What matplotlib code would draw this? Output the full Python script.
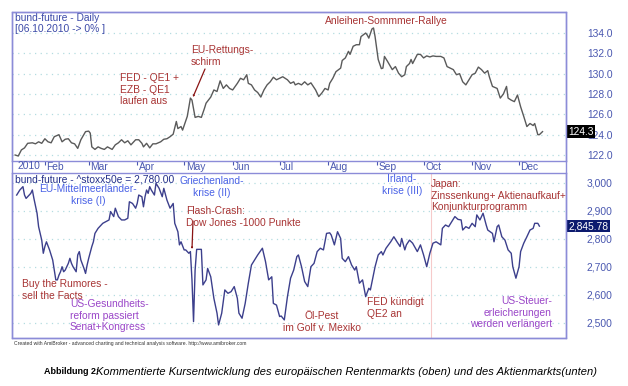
import matplotlib
matplotlib.use("Agg")
import matplotlib.pyplot as plt
import matplotlib.transforms as mtransforms
from matplotlib.patches import Rectangle
import numpy as np
import pandas as pd

# ---- data, x = day of year 2010 ----
TOP_DAY = [13, 15, 17, 19, 21, 24, 26, 28, 30, 32,
           34, 36, 38, 41, 43, 45, 47, 49, 51, 53,
           55, 58, 60, 61, 62, 64, 66, 68, 70, 72,
           75, 77, 79, 81, 83, 85, 87, 90, 92, 94,
           95, 97, 99, 101, 103, 106, 108, 110, 112, 114,
           116, 117, 119, 120, 123, 125, 126, 128, 130, 132,
           134, 135, 138, 140, 142, 144, 146, 148, 150, 152,
           155, 157, 159, 161, 162, 164, 166, 168, 170, 172,
           174, 176, 178, 180, 182, 184, 187, 189, 191, 192,
           194, 196, 198, 200, 202, 205, 207, 209, 211, 213,
           214, 216, 218, 221, 222, 224, 226, 227, 229, 231,
           233, 234, 237, 238, 239, 241, 242, 243, 245, 247,
           248, 249, 251, 254, 256, 258, 260, 262, 263, 265,
           266, 267, 270, 272, 274, 276, 278, 280, 282, 285,
           287, 289, 291, 293, 295, 297, 299, 301, 303, 305,
           307, 309, 311, 313, 315, 316, 318, 321, 323, 325,
           327, 328, 330, 332, 334, 336, 338, 340, 342, 344,
           345, 347, 348, 350]
TOP_VAL = [122.0, 121.9, 122.5, 122.7, 123.15, 123.2, 123.1, 123.3, 123.15, 123.6,
           123.3, 123.2, 123.8, 124.0, 123.3, 123.55, 123.6, 123.2, 123.1, 122.65,
           123.5, 124.3, 124.35, 124.15, 122.8, 122.55, 122.8, 122.65, 122.55, 122.8,
           122.55, 123.0, 123.2, 123.5, 123.2, 123.4, 123.0, 123.5, 123.5, 123.15,
           122.8, 123.15, 122.7, 123.1, 123.1, 123.3, 123.55, 123.6, 123.8, 124.05,
           125.3, 124.6, 124.8, 124.45, 125.8, 127.6, 127.4, 125.7, 125.8, 125.7,
           126.6, 127.1, 127.7, 128.4, 128.25, 129.3, 128.55, 128.9, 128.55, 128.4,
           129.05, 129.55, 129.4, 129.9, 129.05, 128.9, 128.4, 128.15, 127.7, 128.4,
           128.9, 129.2, 129.65, 129.4, 129.55, 129.7, 129.4, 129.05, 129.2, 128.9,
           129.05, 128.9, 129.2, 128.9, 129.1, 128.4, 127.75, 128.1, 128.55, 128.4,
           129.05, 129.55, 130.2, 130.55, 131.3, 131.55, 132.2, 131.9, 132.7, 132.85,
           132.85, 133.65, 134.0, 133.8, 133.5, 134.4, 134.5, 133.65, 131.4, 130.5,
           130.55, 131.7, 131.2, 130.4, 130.7, 130.05, 129.7, 129.9, 130.7, 131.0,
           131.4, 131.0, 131.9, 131.9, 131.55, 131.75, 131.65, 131.75, 131.7, 131.7,
           131.55, 130.7, 130.55, 130.4, 129.9, 130.0, 129.2, 128.9, 129.4, 129.9,
           130.05, 130.65, 130.4, 130.05, 130.3, 129.7, 128.75, 128.55, 127.6, 128.0,
           128.75, 127.6, 127.4, 127.25, 127.9, 126.75, 125.8, 124.8, 125.1, 124.9,
           125.1, 124.0, 124.0, 124.3]

BOT_DAY = [14, 16, 18, 19, 20, 23, 24, 25, 27, 28,
           30, 31, 32, 33, 35, 36, 37, 39, 40, 41,
           42, 43, 44, 45, 47, 48, 49, 50, 52, 53,
           54, 55, 57, 58, 59, 60, 62, 63, 64, 66,
           67, 69, 71, 73, 74, 76, 77, 79, 81, 83,
           85, 86, 88, 90, 91, 92, 94, 95, 96, 97,
           98, 99, 100, 102, 103, 105, 107, 108, 110, 112,
           114, 115, 117, 118, 119, 121, 122, 124, 125, 126,
           127, 128, 129, 130, 132, 133, 135, 136, 138, 140,
           142, 143, 145, 147, 149, 151, 153, 155, 156, 158,
           160, 162, 164, 166, 168, 171, 173, 175, 177, 178,
           180, 182, 183, 185, 187, 189, 191, 193, 194, 196,
           198, 200, 202, 204, 206, 208, 210, 212, 214, 215,
           217, 219, 221, 222, 224, 226, 228, 230, 231, 233,
           235, 237, 239, 240, 243, 245, 247, 248, 250, 253,
           255, 257, 259, 260, 262, 263, 265, 267, 270, 272,
           274, 276, 278, 280, 282, 285, 286, 288, 290, 292,
           294, 296, 298, 299, 301, 303, 305, 307, 308, 310,
           312, 314, 315, 318, 319, 321, 322, 324, 326, 328,
           330, 331, 333, 335, 336, 338, 340, 342, 344, 345,
           347, 348]
BOT_VAL = [2957, 2975, 2987, 2957, 2945, 2963, 2975, 2945, 2892, 2844,
           2796, 2749, 2773, 2790, 2761, 2743, 2725, 2654, 2654, 2671,
           2683, 2701, 2683, 2689, 2713, 2731, 2713, 2701, 2683, 2743,
           2755, 2725, 2695, 2677, 2707, 2731, 2773, 2790, 2820, 2838,
           2844, 2856, 2862, 2868, 2898, 2880, 2910, 2880, 2868, 2868,
           2874, 2933, 2927, 2910, 2927, 2957, 2951, 2915, 2951, 2975,
           2963, 2987, 2975, 2957, 2999, 2981, 2951, 2981, 2939, 2910,
           2927, 2856, 2826, 2779, 2790, 2761, 2761, 2749, 2755, 2654,
           2505, 2689, 2763, 2763, 2763, 2636, 2654, 2695, 2665, 2588,
           2535, 2493, 2535, 2618, 2606, 2612, 2630, 2588, 2535, 2517,
           2570, 2642, 2707, 2725, 2743, 2767, 2719, 2654, 2665, 2570,
           2564, 2523, 2525, 2511, 2594, 2660, 2689, 2737, 2743, 2701,
           2648, 2630, 2701, 2713, 2755, 2767, 2761, 2820, 2822, 2814,
           2779, 2826, 2802, 2731, 2719, 2737, 2707, 2689, 2701, 2642,
           2654, 2594, 2624, 2618, 2701, 2743, 2755, 2743, 2767, 2790,
           2808, 2790, 2773, 2802, 2761, 2779, 2796, 2785, 2755, 2779,
           2743, 2701, 2749, 2785, 2790, 2779, 2838, 2850, 2844, 2862,
           2880, 2870, 2868, 2832, 2844, 2838, 2856, 2844, 2886, 2868,
           2892, 2850, 2832, 2820, 2790, 2844, 2850, 2808, 2796, 2761,
           2749, 2701, 2660, 2701, 2755, 2785, 2808, 2832, 2838, 2856,
           2856, 2846]

TOP_TICKS = [122, 124, 126, 128, 130, 132, 134]
BOT_TICKS = [2500, 2600, 2700, 2800, 2900, 3000]
TOP_LAST = "124.3"
BOT_LAST = "2,845.78"
BOT_LAST_VAL = 2845.78
SELECTED = "2010-10-06"

YEAR0 = pd.Timestamp("2010-01-01")
top_dates = YEAR0 + pd.to_timedelta(np.array(TOP_DAY) - 1, unit="D")
bot_dates = YEAR0 + pd.to_timedelta(np.array(BOT_DAY) - 1, unit="D")
months = pd.date_range("2010-02-01", "2010-12-01", freq="MS")

# ---- style ----
FRAME = "#8c8cd8"
GRID = "#b4dce0"
TXT = "#4a58b0"
TOPLINE = "#5a5a5a"
BOTLINE = "#3c3f8c"
RED = "#a83434"
BLUE = "#4a62e6"
PURPLE = "#9a46c8"
NAVY = "#24308a"
FS = 7.4

plt.rcParams["font.family"] = ["Liberation Sans", "DejaVu Sans"]

W, H = 628, 386
fig = plt.figure(figsize=(W / 100, H / 100), dpi=100)


def box(x0, y0, x1, y1):
    return [x0 / W, 1 - y1 / H, (x1 - x0) / W, (y1 - y0) / H]


def fp(x, y):
    return (x / W, 1 - y / H)


ax_top = fig.add_axes(box(12, 12, 566, 161))
ax_bot = fig.add_axes(box(12, 173, 566, 338))

fig.patches.append(Rectangle(fp(12, 338), 554 / W, 326 / H, transform=fig.transFigure,
                             fill=False, edgecolor=FRAME, lw=1.0, zorder=5))

xlim = (pd.Timestamp("2010-01-11"), pd.Timestamp("2010-12-31"))
for ax, ticks, ylim in [(ax_top, TOP_TICKS, (121.41, 136.07)),
                        (ax_bot, BOT_TICKS, (2446.4, 3035.7))]:
    ax.set_xlim(xlim)
    ax.set_ylim(ylim)
    for s in ax.spines.values():
        s.set_color(FRAME)
        s.set_linewidth(1.0)
    ax.yaxis.tick_right()
    ax.set_yticks(ticks)
    ax.tick_params(axis="y", length=0, pad=15, labelsize=FS, labelcolor=TXT)
    for t in ticks:
        ax.axhline(t, color=GRID, lw=0.9, ls=(0, (1, 3.5)), zorder=0)

ax_top.yaxis.set_major_formatter(matplotlib.ticker.FormatStrFormatter("%.1f"))
ax_bot.yaxis.set_major_formatter(matplotlib.ticker.StrMethodFormatter("{x:,.0f}"))

ax_top.plot(top_dates, TOP_VAL, color=TOPLINE, lw=1.0)
ax_bot.plot(bot_dates, BOT_VAL, color=BOTLINE, lw=1.0)
ax_bot.axvline(pd.Timestamp(SELECTED), color="#f6caca", lw=0.8, zorder=0)

# month strip between the panes
ax_top.set_xticks(months)
ax_top.set_xticklabels([m.strftime("%b") for m in months])
ax_top.tick_params(axis="x", direction="out", length=3, width=0.8, color=TXT,
                   labelsize=FS, labelcolor=TXT, pad=-2.6)
shift = mtransforms.ScaledTranslation(1.5 / 100, 0, fig.dpi_scale_trans)
for lab in ax_top.get_xticklabels():
    lab.set_ha("left")
    lab.set_transform(lab.get_transform() + shift)
ax_bot.set_xticks([])
fig.text(*fp(18, 161), "2010", fontsize=FS, color=TXT, va="top")

# value boxes on the right edge
for ax, val, lab, bg in [(ax_top, float(TOP_LAST), TOP_LAST, "black"),
                         (ax_bot, BOT_LAST_VAL, BOT_LAST, "#0c1a6e")]:
    tr = mtransforms.blended_transform_factory(ax.transAxes, ax.transData)
    ax.text(1.0045, val, lab, transform=tr, fontsize=FS, color="white", va="center",
            ha="left", bbox=dict(boxstyle="square,pad=0.12", fc=bg, ec="none"),
            clip_on=False, zorder=6)

# pane titles
fig.text(*fp(15, 13), "bund-future - Daily\n[06.10.2010 -> 0% ]", fontsize=FS,
         color="#3c4aa8", va="top", linespacing=1.15)
fig.text(*fp(15, 174), "bund-future - ^stoxx50e = 2,780.00", fontsize=FS,
         color=NAVY, va="top")

# comments, top pane
fig.text(*fp(120, 73), "FED - QE1 +\nEZB - QE1\nlaufen aus", fontsize=FS,
         color=RED, va="top")
fig.text(*fp(191, 45), "EU-Rettungs-\nschirm", fontsize=FS, color=RED, va="top")
fig.text(*fp(325, 16), "Anleihen-Sommmer-Rallye", fontsize=FS, color=RED, va="top")

# comments, bottom pane
fig.text(*fp(88, 184), "EU-Mittelmeerländer-\nkrise (I)", fontsize=FS, color=BLUE,
         va="top", ha="center", multialignment="center")
fig.text(*fp(212, 176), "Griechenland-\nkrise (II)", fontsize=FS, color=BLUE,
         va="top", ha="center", multialignment="center")
fig.text(*fp(186, 206), "Flash-Crash:\nDow Jones -1000 Punkte", fontsize=FS,
         color=RED, va="top")
fig.text(*fp(22, 279), "Buy the Rumores -\nsell the Facts", fontsize=FS, color=RED,
         va="top")
fig.text(*fp(70, 299), "US-Gesundheits-\nreform passiert\nSenat+Kongress",
         fontsize=FS, color=PURPLE, va="top")
fig.text(*fp(322, 311), "Öl-Pest\nim Golf v. Mexiko", fontsize=FS, color=RED,
         va="top", ha="center", multialignment="center")
fig.text(*fp(367, 297), "FED kündigt\nQE2 an", fontsize=FS, color=RED, va="top")
fig.text(*fp(402, 174), "Irland-\nkrise (III)", fontsize=FS, color=BLUE,
         va="top", ha="center", multialignment="center")
fig.text(*fp(431, 179), "Japan:\nZinssenkung+ Aktienaufkauf+\nKonjunkturprogramm",
         fontsize=FS, color=RED, va="top")
fig.text(*fp(552, 296), "US-Steuer-\nerleicherungen\nwerden verlängert",
         fontsize=FS, color=PURPLE, va="top", ha="right", multialignment="right")

arrow = dict(arrowstyle="-|>,head_length=0.55,head_width=0.3", color="#8a1414",
             lw=0.9, shrinkA=0, shrinkB=0)
fig.add_artist(matplotlib.patches.FancyArrowPatch(fp(205, 69), fp(193, 97),
               transform=fig.transFigure, **arrow))
fig.add_artist(matplotlib.patches.FancyArrowPatch(fp(193, 221), fp(192, 249),
               transform=fig.transFigure, **arrow))

# footer + caption
fig.text(*fp(14, 343), "Created with AmiBroker - advanced charting and technical "
         "analysis software. http://www.amibroker.com", fontsize=3.6, color="#333333",
         va="center")
fig.text(*fp(44, 372), "Abbildung 2:", fontsize=6.5, fontweight="bold", va="center")
fig.text(*fp(96, 372), "Kommentierte Kursentwicklung des europäischen Rentenmarkts "
         "(oben) und des Aktienmarkts(unten)", fontsize=8.0, style="italic",
         va="center")

fig.savefig("out.png", dpi=100)
